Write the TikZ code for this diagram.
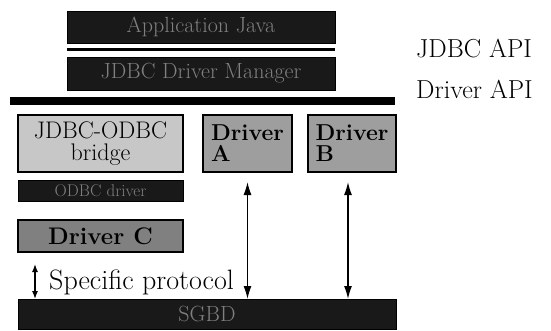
\documentclass[tikz,border=0pt]{standalone}
\usetikzlibrary{arrows.meta}
\begin{document}
\begin{tikzpicture}[x=1pt,y=-1pt,
  darkbox/.style={draw=black,line width=1pt,fill=black!90,inner sep=0pt,outer sep=0pt,
    text=black!50,font=\fontsize{22}{24}\selectfont},
  lightbox/.style={draw=black,line width=1.5pt,inner sep=0pt,outer sep=0pt,
    font=\fontsize{24}{22}\selectfont,align=center},
  lbl/.style={inner sep=0pt,anchor=base west,font=\fontsize{26}{28}\selectfont},
  dbl/.style={line width=1.3pt,{Latex[length=13pt,width=8pt]}-{Latex[length=13pt,width=8pt]}},
  sdbl/.style={line width=1.3pt,{Latex[length=8pt,width=6pt]}-{Latex[length=8pt,width=6pt]}}]
\useasboundingbox (0,0) rectangle (551,330);
% top stack
\node[darkbox,minimum width=268pt,minimum height=32pt] (app) at (201,27) {Application Java};
\draw[line width=3pt] (67,49.5) -- (335,49.5);
\node[darkbox,minimum width=268pt,minimum height=33pt] (mgr) at (201,73.5) {JDBC Driver Manager};
\draw[line width=8pt] (10,101) -- (395,101);
\node[lbl] (jdbcapi) at (416,57) {JDBC API};
\node[lbl] (drvapi) at (416,98) {Driver API};
% drivers
\node[lightbox,fill=black!22,minimum width=165pt,minimum height=57pt] (bridge) at (100.5,143.5) {JDBC-ODBC\\bridge};
\node[lightbox,fill=black!38,minimum width=89pt,minimum height=57pt,align=left,font=\fontsize{23}{21}\bfseries] (drvA) at (247.5,143.5) {Driver\\A};
\node[lightbox,fill=black!38,minimum width=88pt,minimum height=57pt,align=left,font=\fontsize{23}{21}\bfseries] (drvB) at (352,143.5) {Driver\\B};
\node[darkbox,minimum width=165pt,minimum height=21pt,font=\fontsize{17}{18}\selectfont] (odbc) at (100.5,190.5) {ODBC driver};
\node[lightbox,fill=black!50,minimum width=165pt,minimum height=32pt,font=\fontsize{24}{24}\bfseries] (drvC) at (100.5,236) {Driver C};
\node[darkbox,minimum width=378pt,minimum height=30pt] (sgbd) at (207,314) {SGBD};
% arrows
\draw[dbl] ([yshift=-10pt]drvA.south) -- (drvA.south |- sgbd.north);
\coordinate (bx) at (348,0);
\draw[dbl] (bx |- 0,182) -- (bx |- sgbd.north);
\coordinate (cx) at (35,0);
\draw[sdbl] (cx |- 0,264) -- (cx |- sgbd.north);
\node[inner sep=0pt,anchor=base west,font=\fontsize{28}{30}\selectfont] (proto) at (49,289) {Specific protocol};
\end{tikzpicture}
\end{document}
